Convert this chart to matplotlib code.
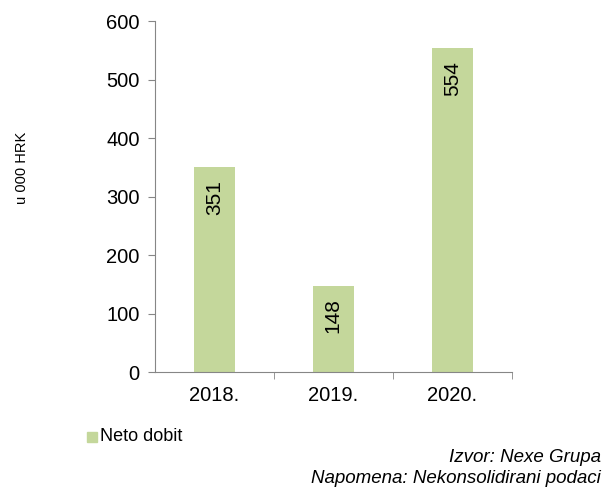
import matplotlib.pyplot as plt
from matplotlib.patches import Rectangle

plt.rcParams['font.family'] = ['Liberation Sans', 'DejaVu Sans']

godine = ['2018.', '2019.', '2020.']
neto_dobit = [351, 148, 554]
y_ticks = [0, 100, 200, 300, 400, 500, 600]

boja = '#c4d79b'
siva = '#868686'

fig = plt.figure(figsize=(6.05, 4.91), dpi=100)
ax = fig.add_axes([0.256, 0.242, 0.590, 0.715])

x = range(len(godine))
bars = ax.bar(x, neto_dobit, width=0.35, color=boja, label='Neto dobit')

# vrijednosti unutar stupaca, okrenute za 90 stupnjeva
for xi, v in zip(x, neto_dobit):
    ax.text(xi, v - 22, str(v), rotation=90, ha='center', va='top',
            fontsize=15, color='black')

ax.set_xlim(-0.5, 2.5)
ax.set_ylim(0, 600)
ax.set_yticks(y_ticks)
ax.set_xticks(list(x))
ax.set_xticklabels(godine)
ax.set_xticks([0.5, 1.5, 2.5], minor=True)
ax.tick_params(axis='x', which='major', length=0, labelsize=14.5, pad=10)
ax.tick_params(axis='x', which='minor', length=5, direction='out', color=siva)
ax.tick_params(axis='y', length=5, direction='out', color=siva, labelsize=14.5, pad=6)

for s in ['top', 'right']:
    ax.spines[s].set_visible(False)
for s in ['left', 'bottom']:
    ax.spines[s].set_color(siva)

fig.text(0.037, 0.658, 'u 000 HRK', rotation=90, ha='center', va='center', fontsize=10.5)

fig.patches.append(Rectangle((0.144, 0.100), 0.017, 0.021, transform=fig.transFigure,
                             color=boja, figure=fig))
fig.text(0.165, 0.110, 'Neto dobit', ha='left', va='center', fontsize=13)

fig.text(0.993, 0.069, 'Izvor: Nexe Grupa', ha='right', va='center',
         fontsize=13.5, style='italic')
fig.text(0.993, 0.026, 'Napomena: Nekonsolidirani podaci', ha='right', va='center',
         fontsize=13.5, style='italic')

fig.savefig('out.png', dpi=100)
